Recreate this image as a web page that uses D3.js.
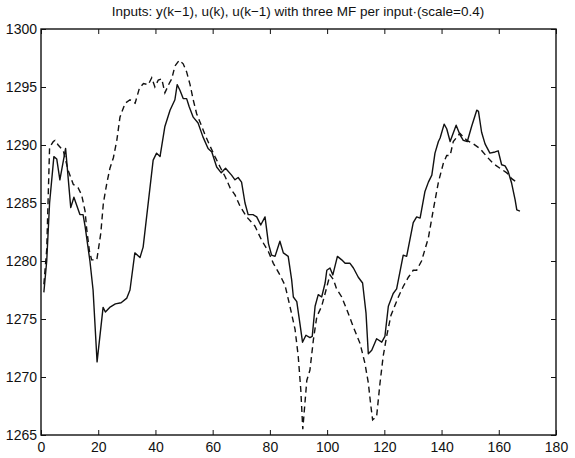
<!DOCTYPE html>
<html>
<head>
<meta charset="utf-8">
<script src="https://cdn.jsdelivr.net/npm/d3@7"></script>
<style>
  body { margin: 0; background: #fff; }
  text { font-family: "Liberation Sans", Arial, sans-serif; fill: #111; }
</style>
</head>
<body>
<div id="chart"></div>
<script>
var width = 575;
var height = 458;

var margin = { top: 29, right: 19, bottom: 23, left: 41 };

var titleText = "Inputs: y(k\u22121), u(k), u(k\u22121) with three MF per input\u00b7(scale=0.4)";
var xTicks = [0, 20, 40, 60, 80, 100, 120, 140, 160, 180];
var yTicks = [1265, 1270, 1275, 1280, 1285, 1290, 1295, 1300];

// solid line: measured output [k, value]
var actual = [
  [1, 1277.3], [2, 1280], [3, 1285], [4.5, 1289], [5.5, 1288.8], [6.6, 1287],
  [8.6, 1289.7], [10.4, 1284.6], [11.5, 1285.5], [13.6, 1284], [14.7, 1284],
  [15.4, 1283], [17.1, 1280], [18.2, 1277.5], [19.6, 1271.3], [21.7, 1276],
  [22.5, 1275.6], [24, 1276], [26, 1276.3], [28, 1276.4], [30, 1276.8],
  [31.1, 1277.5], [32.8, 1280.7], [34.6, 1280.3], [35.7, 1281.2], [39.2, 1288.7],
  [40.4, 1289.3], [41.6, 1289], [43.3, 1291.6], [45.1, 1293], [46.8, 1293.9],
  [47.6, 1295.2], [48.6, 1294.7], [49.7, 1294], [50.9, 1294], [51.8, 1293.3],
  [53.2, 1292.4], [54.9, 1291.9], [56.6, 1290.7], [58.4, 1289.7], [59.7, 1289.4],
  [61.4, 1288.1], [63, 1287.6], [64.5, 1288], [66.6, 1287.4], [67.8, 1287],
  [68.9, 1287.2], [70.1, 1286.8], [71.3, 1285], [72.4, 1284], [74.1, 1284],
  [75.4, 1283.8], [76.8, 1283.1], [78.3, 1283.8], [79.5, 1281.5], [80.6, 1280.5],
  [81.8, 1280.4], [83.5, 1281.7], [84.7, 1280.7], [86.4, 1280.4], [87.6, 1278.4],
  [88.2, 1276.9], [89.4, 1276.5], [90.5, 1274.6], [91.4, 1273], [92.6, 1273.6],
  [94, 1273.4], [94.8, 1273.5], [95.8, 1276.1], [96.9, 1277.1], [98.1, 1276.9],
  [99.3, 1278.1], [99.9, 1279.2], [101, 1279.4], [102, 1278.8], [103.6, 1280.4],
  [105.1, 1280.1], [106.3, 1279.8], [108, 1279.8], [109.2, 1279.4], [110.9, 1278.6],
  [112.4, 1278.1], [113.6, 1275.5], [114.4, 1272], [115.6, 1272.3], [117.3, 1273.3],
  [119.1, 1273], [120.2, 1273.5], [121.4, 1276.1], [123.1, 1277.2], [124.3, 1277.6],
  [126.6, 1280.5], [127.8, 1280.4], [130.1, 1283.3], [131.3, 1283.8], [132.5, 1283.7],
  [134.2, 1286], [135.4, 1286.8], [136.6, 1287.4], [137.7, 1289.3], [138.9, 1290.3],
  [139.5, 1290.6], [140.9, 1291.8], [141.8, 1291.4], [143, 1290.3], [143.9, 1290.9],
  [145.1, 1291.7], [146.4, 1290.9], [147.6, 1290.4], [149, 1290.3], [150.5, 1291.6],
  [152.3, 1293], [152.9, 1292.9], [154, 1291.1], [155.2, 1290.1], [156.9, 1289.3],
  [158.7, 1289.4], [159.8, 1289.5], [161, 1288.3], [162.2, 1288.2], [163.3, 1287.7],
  [164.5, 1286.7], [165.7, 1285.3], [166.3, 1284.4], [167.4, 1284.3]
];

// dashed line: fuzzy model output [k, value]
var model = [
  [1, 1278], [2, 1281], [3, 1289.8], [4.3, 1290.3], [4.9, 1290.4], [6, 1290],
  [7.8, 1289.5], [9.5, 1287.8], [11.3, 1286.6], [13, 1286.3], [14.2, 1285.7],
  [15.4, 1284.3], [16, 1282.7], [16.9, 1280.9], [17.7, 1280.1], [19.5, 1280.1],
  [20, 1280.9], [20.9, 1282.4], [21.8, 1285], [23, 1286.7], [24.1, 1288],
  [25.3, 1288.9], [26.5, 1290.4], [27.6, 1292.4], [29.4, 1293.6], [31.1, 1293.9],
  [32.9, 1293.6], [34.4, 1294.9], [35.8, 1295.3], [37.5, 1295.2], [38.7, 1295.8],
  [39.8, 1295], [41, 1295.6], [42.2, 1295.7], [43.3, 1294.5], [44.8, 1295.3],
  [45.7, 1295.7], [46.8, 1296.8], [48.3, 1297.3], [49.7, 1297], [50.9, 1296.3],
  [52.1, 1295.2], [53.2, 1293.9], [54.4, 1292.7], [56.2, 1291.6], [57.3, 1290.9],
  [59.1, 1289.9], [60.8, 1289], [62.6, 1288.1], [64.5, 1287.2], [66.1, 1286.3],
  [67.8, 1285.7], [69.6, 1284.7], [71.9, 1283.8], [74.8, 1283], [77.1, 1281.8],
  [79.5, 1280.8], [81.2, 1279.8], [83.5, 1278.8], [85.3, 1277.9], [87, 1276.1],
  [88.8, 1274.1], [89.9, 1271.8], [90.8, 1268.9], [91.5, 1265.5], [92.9, 1269.7],
  [94, 1270.6], [95.2, 1273.2], [96.4, 1275.2], [98.1, 1276.1], [99.3, 1277.2],
  [101, 1278.8], [102.2, 1278.4], [103.3, 1277.6], [105.1, 1276.9], [106.9, 1275.8],
  [109.2, 1274.3], [111.5, 1272.9], [113.2, 1271.2], [114.4, 1269.5], [115.2, 1267.7],
  [115.9, 1266.3], [117.3, 1266.6], [118.5, 1269.5], [119.6, 1271.8], [120.8, 1273.5],
  [122.3, 1275.3], [124.9, 1276.9], [126.6, 1277.8], [128.4, 1278.6], [130.1, 1279.2],
  [131.3, 1279.2], [133, 1280], [135.4, 1282], [137.1, 1284.4], [138.9, 1286.8],
  [140.6, 1288.4], [141.8, 1289.1], [143, 1289.1], [144.1, 1290.3], [146.4, 1291],
  [148.8, 1290.4], [151.1, 1290.1], [153.4, 1289.7], [155.8, 1289], [158.1, 1288.4],
  [160.4, 1288], [162.8, 1287.6], [164.5, 1287.1], [166.8, 1286.7]
];

var svg = d3.select("#chart")
  .append("svg")
  .attr("width", width)
  .attr("height", height);

var x = d3.scaleLinear()
  .domain([0, 180])
  .range([margin.left, width - margin.right]);

var y = d3.scaleLinear()
  .domain([1265, 1300])
  .range([height - margin.bottom, margin.top]);

// title
svg.append("text")
  .attr("x", 298)
  .attr("y", 16)
  .attr("text-anchor", "middle")
  .attr("font-size", 13.5)
  .text(titleText);

// inward ticks on all four sides, matlab style
var tickLen = 5;
function styleAxis(g) {
  g.select(".domain").remove();
  g.selectAll(".tick line").attr("stroke", "#111").attr("stroke-width", 1);
  g.selectAll(".tick text").attr("font-size", 14).attr("fill", "#111");
}

svg.append("g")
  .attr("transform", "translate(0," + y.range()[0] + ")")
  .call(d3.axisBottom(x).tickValues(xTicks).tickSizeInner(-tickLen).tickPadding(7))
  .call(styleAxis);

svg.append("g")
  .attr("transform", "translate(0," + y.range()[1] + ")")
  .call(d3.axisTop(x).tickValues(xTicks).tickSizeInner(-tickLen).tickFormat(""))
  .call(styleAxis);

svg.append("g")
  .attr("transform", "translate(" + x.range()[0] + ",0)")
  .call(d3.axisLeft(y).tickValues(yTicks).tickSizeInner(-tickLen).tickPadding(4)
    .tickFormat(d3.format("d")))
  .call(styleAxis);

svg.append("g")
  .attr("transform", "translate(" + x.range()[1] + ",0)")
  .call(d3.axisRight(y).tickValues(yTicks).tickSizeInner(-tickLen).tickFormat(""))
  .call(styleAxis);

// frame
svg.append("rect")
  .attr("x", x.range()[0])
  .attr("y", y.range()[1])
  .attr("width", x.range()[1] - x.range()[0])
  .attr("height", y.range()[0] - y.range()[1])
  .attr("fill", "none")
  .attr("stroke", "#111")
  .attr("stroke-width", 1.4);

var line = d3.line()
  .x(function (d) { return x(d[0]); })
  .y(function (d) { return y(d[1]); });

svg.append("path")
  .datum(model)
  .attr("d", line)
  .attr("fill", "none")
  .attr("stroke", "#111")
  .attr("stroke-width", 1.4)
  .attr("stroke-dasharray", "6,4");

svg.append("path")
  .datum(actual)
  .attr("d", line)
  .attr("fill", "none")
  .attr("stroke", "#111")
  .attr("stroke-width", 1.4)
  .attr("stroke-linejoin", "round");
</script>
</body>
</html>
